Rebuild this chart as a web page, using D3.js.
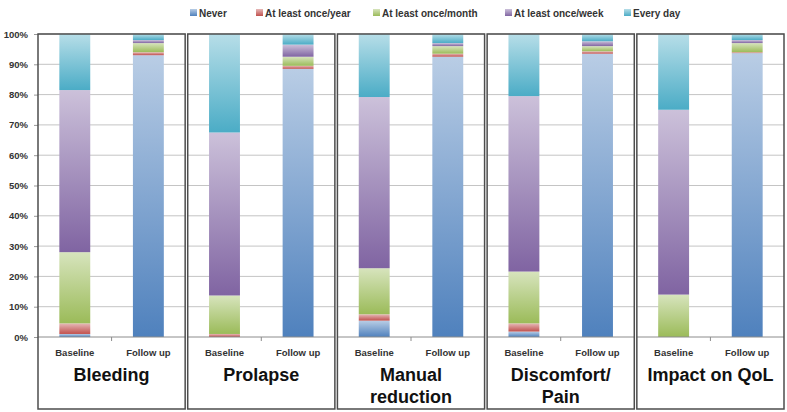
<!DOCTYPE html>
<meta charset="utf-8">
<title>Symptom frequency, baseline vs follow up</title>
<script src="https://d3js.org/d3.v7.min.js"></script>
<body style="margin: 0; background: #fff; font-family: 'Liberation Sans', Arial, sans-serif;">
<div id="chart"></div>
</body>
<script>
width = 787
height = 412

// panels (symptom groups), title split on lines
groups = ["Bleeding", "Prolapse", "Manual reduction", "Discomfort/ Pain", "Impact on QoL"]
groupLines = [["Bleeding"], ["Prolapse"], ["Manual", "reduction"], ["Discomfort/", "Pain"], ["Impact on QoL"]]
times = ["Baseline", "Follow up"]
frequencies = ["Never", "At least once/year", "At least once/month", "At least once/week", "Every day"]

// % of patients, ordered group by group: baseline, follow up
never   = [1.0, 93.0, 0.0, 88.5, 5.4, 92.5, 1.8, 93.5, 0.0, 93.7]
perYear = [3.5, 1.0, 1.0, 1.0, 2.1, 1.0, 2.7, 0.8, 0.0, 0.3]
perMonth = [23.5, 3.0, 12.7, 3.0, 15.2, 2.5, 17.1, 1.7, 14.0, 3.0]
perWeek = [53.5, 1.0, 53.8, 4.0, 56.5, 1.0, 57.9, 1.6, 61.0, 1.0]
everyDay = [18.5, 2.0, 32.5, 3.5, 20.8, 3.0, 20.5, 2.4, 25.0, 2.0]

yTicks = [0, 10, 20, 30, 40, 50, 60, 70, 80, 90, 100]

// light top / dark bottom, per series (excel 2007 look)
colorsTop = ["#b9cde5", "#e6b9b8", "#d7e4bd", "#ccc1da", "#b7dee8"]
colorsBottom = ["#4f81bd", "#c0504d", "#9bbb59", "#8064a2", "#4bacc6"]

series = [never, perYear, perMonth, perWeek, everyDay]
rows = []
groups.forEach((g, gi) => times.forEach((t, ti) => {
  const row = {group: g, time: t}
  frequencies.forEach((f, fi) => row[f] = series[fi][gi * 2 + ti])
  rows.push(row)
}))

stacked = d3.stack().keys(frequencies)(rows)

y = d3.scaleLinear().domain([0, 100]).range([337, 34])
panelX = d3.scaleBand().domain(groups).range([38, 784]).paddingInner(0.017)
barX = d3.scaleBand().domain(times).range([0, panelX.bandwidth()])
    .paddingInner(0.58).paddingOuter(0.29)

svg = d3.select("#chart").append("svg")
    .attr("width", width)
    .attr("height", height)
    .style("display", "block")

defs = svg.append("defs")
frequencies.forEach((f, i) => {
  const grad = defs.append("linearGradient")
      .attr("id", "grad" + i)
      .attr("x1", 0).attr("y1", 0).attr("x2", 0).attr("y2", 1)
  grad.append("stop").attr("offset", "0%").attr("stop-color", colorsTop[i])
  grad.append("stop").attr("offset", "100%").attr("stop-color", colorsBottom[i])
})

// legend
legendX = [190, 256, 373, 505, 624]
legend = svg.append("g")
  .selectAll("g")
  .data(frequencies)
  .join("g")
    .attr("transform", (d, i) => `translate(${legendX[i]},13)`)
legend.append("rect")
    .attr("x", 0).attr("y", -4)
    .attr("width", 7).attr("height", 7)
    .attr("fill", (d, i) => `url(#grad${i})`)
legend.append("text")
    .attr("x", 9)
    .attr("dy", "0.35em")
    .attr("font-size", 10)
    .attr("font-weight", "bold")
    .attr("fill", "#333")
    .text(d => d)

// y axis labels
svg.append("g")
    .attr("transform", `translate(${panelX.range()[0]},0)`)
    .call(d3.axisLeft(y).tickValues(yTicks).tickFormat(d => d + "%").tickSize(4).tickPadding(6))
    .call(g => g.select(".domain").remove())
    .call(g => g.selectAll("line").attr("stroke", "#999"))
    .call(g => g.selectAll("text")
        .attr("font-family", "'Liberation Sans', Arial, sans-serif")
        .attr("font-size", 9.5)
        .attr("font-weight", "bold")
        .attr("fill", "#333"))

panel = svg.append("g")
  .selectAll("g")
  .data(groups)
  .join("g")
    .attr("transform", d => `translate(${panelX(d)},0)`)

// gridlines
panel.selectAll("line.grid")
  .data(yTicks.slice(1))
  .join("line")
    .attr("class", "grid")
    .attr("x1", 0).attr("x2", panelX.bandwidth())
    .attr("y1", d => y(d)).attr("y2", d => y(d))
    .attr("stroke", "#c4c4c4")

// bars
panel.each(function(g) {
  const p = d3.select(this)
  stacked.forEach((s, i) => {
    p.selectAll("rect.s" + i)
      .data(s.filter(d => d.data.group == g && d[1] - d[0] > 0))
      .join("rect")
        .attr("class", "s" + i)
        .attr("x", d => barX(d.data.time))
        .attr("width", barX.bandwidth())
        .attr("y", d => y(d[1]))
        .attr("height", d => y(d[0]) - y(d[1]))
        .attr("fill", `url(#grad${i})`)
  })
})

// x axis line + centre tick
panel.append("line")
    .attr("x1", 0).attr("x2", panelX.bandwidth())
    .attr("y1", y(0)).attr("y2", y(0))
    .attr("stroke", "#8c8c8c")
panel.append("line")
    .attr("x1", panelX.bandwidth() / 2).attr("x2", panelX.bandwidth() / 2)
    .attr("y1", y(0)).attr("y2", y(0) + 4)
    .attr("stroke", "#8c8c8c")

panel.selectAll("text.time")
  .data(times)
  .join("text")
    .attr("class", "time")
    .attr("x", d => barX(d) + barX.bandwidth() / 2)
    .attr("y", 356)
    .attr("text-anchor", "middle")
    .attr("font-size", 9.5)
    .attr("font-weight", "bold")
    .attr("fill", "#333")
    .text(d => d)

panel.append("text")
    .attr("text-anchor", "middle")
    .attr("font-size", 18)
    .attr("font-weight", "bold")
    .attr("fill", "#111")
  .selectAll("tspan")
  .data((d, i) => groupLines[i])
  .join("tspan")
    .attr("x", panelX.bandwidth() / 2)
    .attr("y", (d, i) => 381 + i * 21.5)
    .text(d => d)

// panel frames
panel.append("rect")
    .attr("x", 0).attr("y", y(100))
    .attr("width", panelX.bandwidth())
    .attr("height", 409 - y(100))
    .attr("fill", "none")
    .attr("stroke", "#4d4d4d")
    .attr("stroke-width", 1.5)
</script>
